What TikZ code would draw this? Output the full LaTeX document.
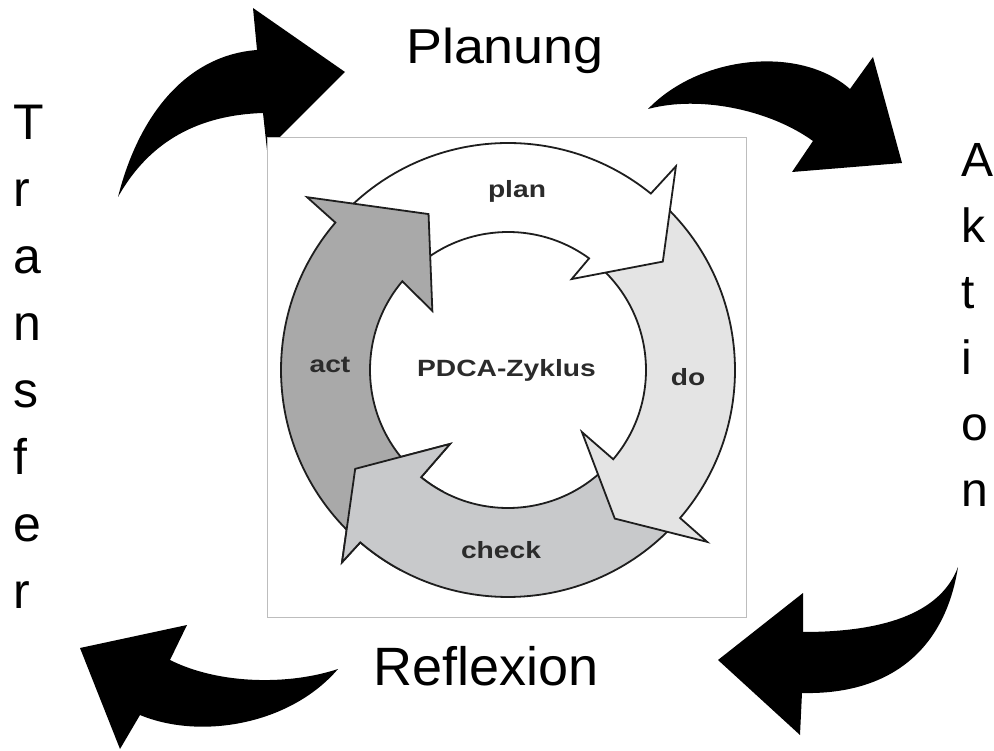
\documentclass[tikz,border=0pt]{standalone}
\usepackage{fontspec}
\usepackage{graphicx}
\setmainfont{Liberation Sans}
\usetikzlibrary{calc}

\definecolor{planfill}{HTML}{FFFFFF}
\definecolor{dofill}{HTML}{E4E4E4}
\definecolor{checkfill}{HTML}{C8C9CB}
\definecolor{actfill}{HTML}{A9A9A9}
\definecolor{ringline}{HTML}{1E1E1E}
\definecolor{ringtext}{HTML}{2B2B2B}
\definecolor{frameline}{HTML}{BDBDBD}

\begin{document}
\begin{tikzpicture}[x=1pt,y=-1pt,
  bigarrow/.style={fill=black},
  band/.style={draw=ringline, line width=1.8pt, line join=miter, miter limit=12},
  bigword/.style={inner sep=0pt, anchor=base, font=\fontsize{54}{60}\selectfont},
  leftletter/.style={inner sep=0pt, anchor=base west, font=\fontsize{50}{56}\selectfont},
  rightletter/.style={inner sep=0pt, anchor=base west, font=\fontsize{48}{54}\selectfont},
  ringword/.style={inner sep=0pt, anchor=base, text=ringtext, font=\fontsize{23.5}{26}\selectfont\bfseries},
]
\useasboundingbox (0,0) rectangle (994,751);

% four big curved arrows around the cycle
\fill[bigarrow] (118,197) .. controls (140,110) and (190,55) .. (257,50)
  -- (253,8) -- (345,72) -- (267,150) -- (263,113)
  .. controls (200,115) and (150,140) .. (118,197) -- cycle;
\fill[bigarrow] (648,109) .. controls (700,55) and (800,45) .. (850,89)
  -- (873,57) -- (902,163) -- (792,172) -- (813,141)
  .. controls (770,110) and (700,95) .. (648,109) -- cycle;
\fill[bigarrow] (958,567) .. controls (940,615) and (880,632) .. (803,632)
  -- (803,593) -- (718,660) -- (800,735) -- (802,693)
  .. controls (890,695) and (945,650) .. (958,567) -- cycle;
\fill[bigarrow] (338,669) .. controls (290,685) and (220,685) .. (170,660)
  -- (187,625) -- (80,648) -- (120,749) -- (140,715)
  .. controls (200,740) and (290,725) .. (338,669) -- cycle;

% framed inset with the PDCA ring
\draw[draw=frameline, fill=white, line width=0.8pt] (267,137) rectangle (746,617);

\begin{scope}[shift={(508,370)}]
  % check
  \filldraw[band, fill=checkfill] (43.5:138) -- (43.5:227)
    arc[start angle=43.5, end angle=130.6, radius=227]
    -- (130.8:254) -- (147.1:182) -- (128.1:94) -- (129:138)
    arc[start angle=129, end angle=43.5, radius=138] -- cycle;
  % do
  \filldraw[band, fill=dofill] (-48:138) -- (-48:227)
    arc[start angle=-48, end angle=40.7, radius=227]
    -- (40.8:263) -- (54.3:183) -- (40:96.5) -- (40.3:138)
    arc[start angle=40.3, end angle=-48, radius=138] -- cycle;
  % plan
  \filldraw[band, fill=planfill] (-135:138) -- (-135:227)
    arc[start angle=-135, end angle=-51, radius=227]
    -- (-50.5:264) -- (-35:189) -- (-55:111) -- (-54:138)
    arc[start angle=-54, end angle=-135, radius=138] -- cycle;
  % act
  \filldraw[band, fill=actfill] (133:138) -- (133:227)
    arc[start angle=133, end angle=220.5, radius=227]
    -- (220.7:265) -- (243:175) -- (218:96) -- (220:138)
    arc[start angle=220, end angle=133, radius=138] -- cycle;
  % head of check laid over the tail of act
  \fill[checkfill] (118:227) arc[start angle=118, end angle=130.6, radius=227]
    -- (130.8:254) -- (147.1:182) -- (128.1:94) -- (129:138)
    arc[start angle=129, end angle=118, radius=138] -- cycle;
  \draw[band] (118:227) arc[start angle=118, end angle=130.6, radius=227]
    -- (130.8:254) -- (147.1:182) -- (128.1:94) -- (129:138)
    arc[start angle=129, end angle=118, radius=138];
\end{scope}

% ring labels
\node[ringword] (plan) at (517,198) {\scalebox{1.2}[1]{plan}};
\node[ringword] (do) at (688,386) {\scalebox{1.2}[1]{do}};
\node[ringword] (check) at (501,558) {\scalebox{1.2}[1]{check}};
\node[ringword] (act) at (330,373) {\scalebox{1.2}[1]{act}};
\node[ringword] (pdca) at (506.5,377) {\scalebox{1.2}[1]{PDCA-Zyklus}};

% outer labels
\node[bigword, font=\fontsize{49}{56}\selectfont] (planung) at (505,64) {\scalebox{1.1}[1]{Planung}};
\node[bigword] (reflexion) at (486,685) {Reflexion};
\foreach \ch [count=\i] in {T,r,a,n,s,f,e,r}
  \node[leftletter] (transfer\i) at (13.5,{140+(\i-1)*66.9}) {\ch};
\foreach \ch [count=\i] in {A,k,t,i,o,n}
  \node[rightletter] (aktion\i) at (961,{176.7+(\i-1)*66}) {\ch};
\end{tikzpicture}
\end{document}
